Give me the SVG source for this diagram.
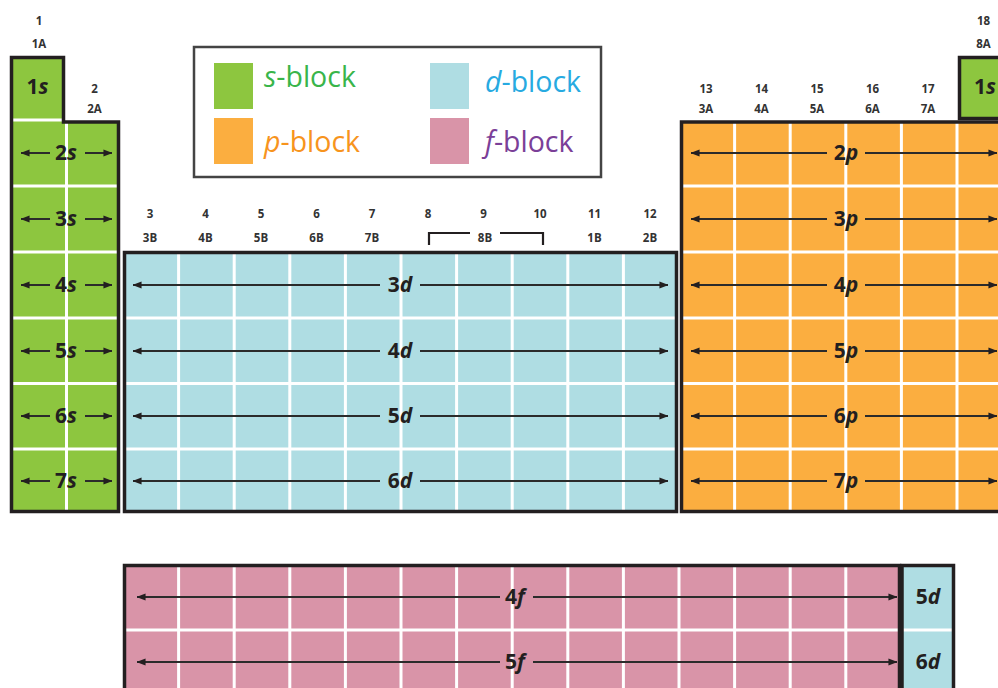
<svg xmlns="http://www.w3.org/2000/svg" width="998" height="688" viewBox="0 0 998 688">
<defs>
<marker id="ah" viewBox="0 0 10 8" refX="9.5" refY="4" markerWidth="9" markerHeight="7.5" markerUnits="userSpaceOnUse" orient="auto"><path d="M0,0 L10,4 L0,8 Z" fill="#231f20"/></marker>
</defs>
<style>
.grp{font-family:"Open Sans","Liberation Sans",sans-serif;font-weight:700;font-size:11.5px;fill:#333;text-anchor:middle}
.lbl{font-family:"Open Sans","Liberation Sans",sans-serif;font-weight:700;font-size:21px;fill:#231f20;text-anchor:middle}
.it{font-style:italic}
.outline{fill:none;stroke:#231f20;stroke-width:3.5}
.grid{stroke:#fff;stroke-width:3}
.arr{stroke:#2b2b2b;stroke-width:2;fill:none;marker-end:url(#ah)}
.leg{font-family:"Open Sans","Liberation Sans",sans-serif;font-size:28.5px}
.sF{fill:#8dc63f}.dF{fill:#afdde3}.pF{fill:#fbae40}.fF{fill:#d994a8}
</style>
<rect width="998" height="688" fill="#fff"/>

<g id="group-labels">
<text class="grp" x="39" y="25">1</text><text class="grp" x="39" y="48">1A</text>
<text class="grp" x="94.5" y="93">2</text><text class="grp" x="94.5" y="113">2A</text>
<text class="grp" x="150" y="218">3</text><text class="grp" x="150" y="242">3B</text>
<text class="grp" x="205.5" y="218">4</text><text class="grp" x="205.5" y="242">4B</text>
<text class="grp" x="261" y="218">5</text><text class="grp" x="261" y="242">5B</text>
<text class="grp" x="316.5" y="218">6</text><text class="grp" x="316.5" y="242">6B</text>
<text class="grp" x="372" y="218">7</text><text class="grp" x="372" y="242">7B</text>
<text class="grp" x="428" y="218">8</text>
<text class="grp" x="483.5" y="218">9</text><text class="grp" x="485" y="242">8B</text>
<text class="grp" x="540" y="218">10</text>
<text class="grp" x="594.5" y="218">11</text><text class="grp" x="594.5" y="242">1B</text>
<text class="grp" x="650" y="218">12</text><text class="grp" x="650" y="242">2B</text>
<path d="M429,245 V233 H470 M500,233 H543 V245" fill="none" stroke="#231f20" stroke-width="2.2"/>
<text class="grp" x="706" y="93">13</text><text class="grp" x="706" y="113">3A</text>
<text class="grp" x="761.5" y="93">14</text><text class="grp" x="761.5" y="113">4A</text>
<text class="grp" x="817" y="93">15</text><text class="grp" x="817" y="113">5A</text>
<text class="grp" x="872.5" y="93">16</text><text class="grp" x="872.5" y="113">6A</text>
<text class="grp" x="928" y="93">17</text><text class="grp" x="928" y="113">7A</text>
<text class="grp" x="983.5" y="25">18</text><text class="grp" x="983.5" y="48">8A</text>
</g>

<g id="legend">
<rect x="194" y="47" width="407" height="130" fill="#fff" stroke="#444" stroke-width="2.5"/>
<rect x="214" y="63" width="39" height="46" class="sF"/>
<rect x="214" y="118" width="39" height="46" class="pF"/>
<rect x="430" y="63" width="39" height="46" class="dF"/>
<rect x="430" y="118" width="39" height="46" class="fF"/>
<text class="leg" x="264" y="87" fill="#39b54a"><tspan class="it">s</tspan>-block</text>
<text class="leg" x="264" y="152" fill="#f7941d"><tspan class="it">p</tspan>-block</text>
<text class="leg" x="485" y="92" fill="#27aae1"><tspan class="it">d</tspan>-block</text>
<text class="leg" x="485" y="152" fill="#7b3f98"><tspan class="it">f</tspan>-block</text>
</g>

<g id="s-block">
<path d="M11.5,57.5 H63.5 V122 H118.5 V511.5 H11.5 Z" class="sF"/>
<line class="grid" x1="66.5" y1="122" x2="66.5" y2="511.5"/>
<line class="grid" x1="11.5" y1="120" x2="63.5" y2="120"/>
<line class="grid" x1="11.5" y1="186" x2="118.5" y2="186"/>
<line class="grid" x1="11.5" y1="252" x2="118.5" y2="252"/>
<line class="grid" x1="11.5" y1="318" x2="118.5" y2="318"/>
<line class="grid" x1="11.5" y1="383.5" x2="118.5" y2="383.5"/>
<line class="grid" x1="11.5" y1="449" x2="118.5" y2="449"/>
<path d="M11.5,57.5 H63.5 V122 H118.5 V511.5 H11.5 Z" class="outline"/>
<text class="lbl" x="37.5" y="94">1<tspan class="it">s</tspan></text>
<text class="lbl" x="66" y="160">2<tspan class="it">s</tspan></text>
<text class="lbl" x="66" y="226">3<tspan class="it">s</tspan></text>
<text class="lbl" x="66" y="292">4<tspan class="it">s</tspan></text>
<text class="lbl" x="66" y="358">5<tspan class="it">s</tspan></text>
<text class="lbl" x="66" y="423">6<tspan class="it">s</tspan></text>
<text class="lbl" x="66" y="488">7<tspan class="it">s</tspan></text>
</g>

<g id="s-block-top-right">
<rect x="959.5" y="57.5" width="60" height="61" class="sF"/>
<rect x="959.5" y="57.5" width="60" height="61" class="outline"/>
<text class="lbl" x="985" y="94">1<tspan class="it">s</tspan></text>
</g>

<g id="d-block">
<rect x="124.5" y="252.5" width="552" height="259" class="dF"/>
<g class="grid">
<line x1="178.6" y1="252.5" x2="178.6" y2="511.5"/><line x1="234.2" y1="252.5" x2="234.2" y2="511.5"/>
<line x1="289.8" y1="252.5" x2="289.8" y2="511.5"/><line x1="345.4" y1="252.5" x2="345.4" y2="511.5"/>
<line x1="401" y1="252.5" x2="401" y2="511.5"/><line x1="456.6" y1="252.5" x2="456.6" y2="511.5"/>
<line x1="512.2" y1="252.5" x2="512.2" y2="511.5"/><line x1="567.8" y1="252.5" x2="567.8" y2="511.5"/>
<line x1="623.4" y1="252.5" x2="623.4" y2="511.5"/>
<line x1="124.5" y1="318" x2="676.5" y2="318"/><line x1="124.5" y1="383.5" x2="676.5" y2="383.5"/>
<line x1="124.5" y1="449" x2="676.5" y2="449"/>
</g>
<rect x="124.5" y="252.5" width="552" height="259" class="outline"/>
<text class="lbl" x="400" y="292">3<tspan class="it">d</tspan></text>
<text class="lbl" x="400" y="358">4<tspan class="it">d</tspan></text>
<text class="lbl" x="400" y="423">5<tspan class="it">d</tspan></text>
<text class="lbl" x="400" y="488">6<tspan class="it">d</tspan></text>
</g>

<g id="p-block">
<rect x="681.5" y="122" width="330" height="389.5" class="pF"/>
<g class="grid">
<line x1="734.6" y1="122" x2="734.6" y2="511.5"/><line x1="790.2" y1="122" x2="790.2" y2="511.5"/>
<line x1="845.8" y1="122" x2="845.8" y2="511.5"/><line x1="901.4" y1="122" x2="901.4" y2="511.5"/>
<line x1="957" y1="122" x2="957" y2="511.5"/>
<line x1="681.5" y1="186" x2="1011" y2="186"/><line x1="681.5" y1="252" x2="1011" y2="252"/>
<line x1="681.5" y1="318" x2="1011" y2="318"/><line x1="681.5" y1="383.5" x2="1011" y2="383.5"/>
<line x1="681.5" y1="449" x2="1011" y2="449"/>
</g>
<rect x="681.5" y="122" width="330" height="389.5" class="outline"/>
<text class="lbl" x="846" y="160">2<tspan class="it">p</tspan></text>
<text class="lbl" x="846" y="226">3<tspan class="it">p</tspan></text>
<text class="lbl" x="846" y="292">4<tspan class="it">p</tspan></text>
<text class="lbl" x="846" y="358">5<tspan class="it">p</tspan></text>
<text class="lbl" x="846" y="423">6<tspan class="it">p</tspan></text>
<text class="lbl" x="846" y="488">7<tspan class="it">p</tspan></text>
</g>

<g id="f-block">
<rect x="124.5" y="565.5" width="775" height="140" class="fF"/>
<g class="grid">
<line x1="178.6" y1="565.5" x2="178.6" y2="688"/><line x1="234.2" y1="565.5" x2="234.2" y2="688"/>
<line x1="289.8" y1="565.5" x2="289.8" y2="688"/><line x1="345.4" y1="565.5" x2="345.4" y2="688"/>
<line x1="401" y1="565.5" x2="401" y2="688"/><line x1="456.6" y1="565.5" x2="456.6" y2="688"/>
<line x1="512.2" y1="565.5" x2="512.2" y2="688"/><line x1="567.8" y1="565.5" x2="567.8" y2="688"/>
<line x1="623.4" y1="565.5" x2="623.4" y2="688"/><line x1="679" y1="565.5" x2="679" y2="688"/>
<line x1="734.6" y1="565.5" x2="734.6" y2="688"/><line x1="790.2" y1="565.5" x2="790.2" y2="688"/>
<line x1="845.8" y1="565.5" x2="845.8" y2="688"/>
<line x1="124.5" y1="630" x2="899.5" y2="630"/>
</g>
<rect x="124.5" y="565.5" width="775" height="140" class="outline"/>
<text class="lbl" x="515" y="604">4<tspan class="it">f</tspan></text>
<text class="lbl" x="515" y="669">5<tspan class="it">f</tspan></text>
</g>

<g id="d-block-inner">
<rect x="902" y="565.5" width="51.5" height="140" class="dF"/>
<line class="grid" x1="902" y1="630" x2="953.5" y2="630"/>
<rect x="902" y="565.5" width="51.5" height="140" class="outline"/>
<text class="lbl" x="928" y="604">5<tspan class="it">d</tspan></text>
<text class="lbl" x="928" y="669">6<tspan class="it">d</tspan></text>
</g>

<g id="connectors">
<line class="arr" x1="50" y1="153" x2="21" y2="153"/><line class="arr" x1="85" y1="153" x2="112" y2="153"/>
<line class="arr" x1="50" y1="219" x2="21" y2="219"/><line class="arr" x1="85" y1="219" x2="112" y2="219"/>
<line class="arr" x1="50" y1="285" x2="21" y2="285"/><line class="arr" x1="85" y1="285" x2="112" y2="285"/>
<line class="arr" x1="50" y1="351" x2="21" y2="351"/><line class="arr" x1="85" y1="351" x2="112" y2="351"/>
<line class="arr" x1="50" y1="416" x2="21" y2="416"/><line class="arr" x1="85" y1="416" x2="112" y2="416"/>
<line class="arr" x1="50" y1="481" x2="21" y2="481"/><line class="arr" x1="85" y1="481" x2="112" y2="481"/>

<line class="arr" x1="380" y1="285" x2="133" y2="285"/><line class="arr" x1="420" y1="285" x2="668" y2="285"/>
<line class="arr" x1="380" y1="351" x2="133" y2="351"/><line class="arr" x1="420" y1="351" x2="668" y2="351"/>
<line class="arr" x1="380" y1="416" x2="133" y2="416"/><line class="arr" x1="420" y1="416" x2="668" y2="416"/>
<line class="arr" x1="380" y1="481" x2="133" y2="481"/><line class="arr" x1="420" y1="481" x2="668" y2="481"/>

<line class="arr" x1="827" y1="153" x2="691" y2="153"/><line class="arr" x1="865" y1="153" x2="997" y2="153"/>
<line class="arr" x1="827" y1="219" x2="691" y2="219"/><line class="arr" x1="865" y1="219" x2="997" y2="219"/>
<line class="arr" x1="827" y1="285" x2="691" y2="285"/><line class="arr" x1="865" y1="285" x2="997" y2="285"/>
<line class="arr" x1="827" y1="351" x2="691" y2="351"/><line class="arr" x1="865" y1="351" x2="997" y2="351"/>
<line class="arr" x1="827" y1="416" x2="691" y2="416"/><line class="arr" x1="865" y1="416" x2="997" y2="416"/>
<line class="arr" x1="827" y1="481" x2="691" y2="481"/><line class="arr" x1="865" y1="481" x2="997" y2="481"/>

<line class="arr" x1="500" y1="597" x2="137" y2="597"/><line class="arr" x1="533" y1="597" x2="897" y2="597"/>
<line class="arr" x1="500" y1="662" x2="137" y2="662"/><line class="arr" x1="533" y1="662" x2="897" y2="662"/>
</g>
</svg>
